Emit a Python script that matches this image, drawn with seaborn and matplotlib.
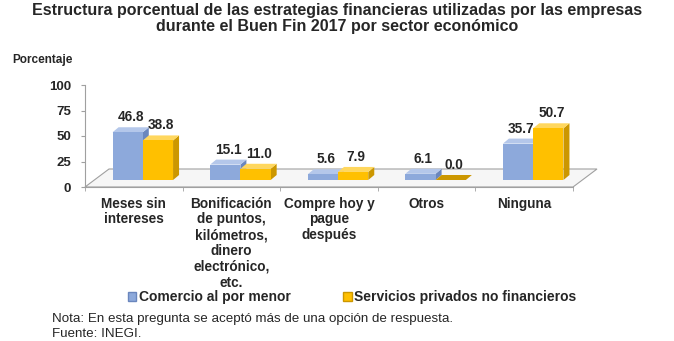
import numpy as np
import pandas as pd
import matplotlib
matplotlib.use("Agg")
import matplotlib.pyplot as plt
import seaborn as sns
from matplotlib.patches import Polygon, Patch
from matplotlib.transforms import Affine2D, IdentityTransform

categories = ["Meses sin\nintereses",
              "Bonificación\nde puntos,\nkilómetros,\ndinero\nelectrónico,\netc.",
              "Compre hoy y\npague\ndespués",
              "Otros",
              "Ninguna"]
series = ["Comercio al por menor", "Servicios privados no financieros"]
comercio = [46.8, 15.1, 5.6, 6.1, 35.7]
servicios = [38.8, 11.0, 7.9, 0.0, 50.7]
yticks = [0, 25, 50, 75, 100]

title = ("Estructura porcentual de las estrategias financieras utilizadas por las empresas\n"
         "durante el Buen Fin 2017 por sector económico")
nota = "Nota: En esta pregunta se aceptó más de una opción de respuesta."
fuente = "Fuente: INEGI."

front = ["#8DA9DB", "#FFC000"]
side = ["#6A86BD", "#CC9700"]
top = ["#B4C7EA", "#FFD75E"]

df = pd.DataFrame({
    "cat": categories * 2,
    "val": comercio + servicios,
    "serie": [series[0]] * 5 + [series[1]] * 5,
})

sns.set_style("white")
plt.rcParams["font.family"] = ["Liberation Sans", "DejaVu Sans"]

W, H = 674, 341
fig = plt.figure(figsize=(W / 100, H / 100), dpi=100)
ax = fig.add_axes([85 / W, (H - 187) / H, 488 / W, 102 / H])

sns.barplot(data=df, x="cat", y="val", hue="serie", palette=front,
            saturation=1, width=0.62, dodge=True, ax=ax, legend=False)

ax.set_xlim(-0.5, 4.5)
ax.set_ylim(0, 100)
ax.set_autoscale_on(False)
ax.set_xlabel("")
ax.set_ylabel("")

gray = "#A0A0A0"
for s in ["top", "right"]:
    ax.spines[s].set_visible(False)
ax.spines["left"].set_color(gray)
ax.spines["bottom"].set_color(gray)
ax.spines["left"].set_linewidth(0.8)
ax.spines["bottom"].set_linewidth(0.8)

ax.set_yticks(yticks)
ax.set_yticklabels([str(v) for v in yticks])
ax.tick_params(axis="y", length=3, color=gray, pad=7, labelsize=9.5, left=True)
for lbl in ax.get_yticklabels():
    lbl.set_fontweight("bold")

ax.set_xticks(range(len(categories)))
ax.set_xticklabels(categories)
ax.tick_params(axis="x", which="major", length=0, pad=7, labelsize=9.8)
for lbl in ax.get_xticklabels():
    lbl.set_fontweight("bold")
    lbl.set_linespacing(1.16)
    lbl.set_verticalalignment("top")
ax.set_xticks(np.arange(-0.5, len(categories), 1.0), minor=True)
ax.tick_params(axis="x", which="minor", length=3, color=gray, direction="out", bottom=True)

# floor (3D base)
fig.canvas.draw()
a = ax.transAxes
fl = a.transform((0, 0))
fr = a.transform((1, 0))
ddx, ddy = 24, 18
floor = Polygon([tuple(fl), tuple(fr), (fr[0] + ddx, fr[1] + ddy), (fl[0] + ddx, fl[1] + ddy)],
                closed=True, facecolor="#F6F6F6", edgecolor=gray, linewidth=0.8,
                transform=IdentityTransform(), clip_on=False, zorder=0.5)
ax.add_patch(floor)

# bars: shift to mid-depth and extrude
dx, dy = 9, 7
ex, ey = 6, 5
trans = ax.transData
for si, cont in enumerate(ax.containers):
    zb = 3 + si
    for patch in cont.patches:
        x0, y0 = patch.get_x(), patch.get_y()
        w, h = patch.get_width(), patch.get_height()
        X0, Y0 = trans.transform((x0, y0))
        X1, Y1 = trans.transform((x0 + w, y0 + h))
        X0 += dx; X1 += dx; Y0 += dy; Y1 += dy
        patch.set_transform(trans + Affine2D().translate(dx, dy))
        patch.set_zorder(zb)
        patch.set_clip_on(False)
        patch.set_edgecolor("none")
        sp = Polygon([(X1, Y0), (X1 + ex, Y0 + ey), (X1 + ex, Y1 + ey), (X1, Y1)],
                     closed=True, facecolor=side[si], edgecolor="none",
                     transform=IdentityTransform(), clip_on=False, zorder=zb - 0.1)
        tcol = top[si] if h > 0 else side[si]
        tp = Polygon([(X0, Y1), (X1, Y1), (X1 + ex, Y1 + ey), (X0 + ex, Y1 + ey)],
                     closed=True, facecolor=tcol, edgecolor="none",
                     transform=IdentityTransform(), clip_on=False, zorder=zb - 0.1)
        ax.add_patch(sp)
        ax.add_patch(tp)
    anns = ax.bar_label(cont, fmt="%.1f", fontsize=9.8, fontweight="bold", padding=0)
    for ann in anns:
        ann.xyann = ((dx + ex / 2) * 0.72, (dy + ey + 3) * 0.72)
        ann.set_zorder(6)
        ann.set_clip_on(False)

# texts
fig.text(0.5, 1 - 18.5 / H, title, ha="center", va="center", fontsize=11.5,
         fontweight="bold", linespacing=1.05)
fig.text(12 / W, 1 - 60 / H, "Porcentaje", ha="left", va="center", fontsize=8.5,
         fontweight="bold")

handles = [Patch(facecolor=front[0], edgecolor=side[0]),
           Patch(facecolor=front[1], edgecolor=side[1])]
fig.legend(handles=handles, labels=series, loc="center",
           bbox_to_anchor=(352 / W, 1 - 297 / H), ncol=2, frameon=False,
           prop={"size": 10, "weight": "bold"}, handlelength=0.6, handleheight=0.6,
           handletextpad=0.15, columnspacing=3.8, borderpad=0, borderaxespad=0)

fig.text(52 / W, 1 - 319 / H, nota, ha="left", va="center", fontsize=9.6)
fig.text(52 / W, 1 - 334 / H, fuente, ha="left", va="center", fontsize=9.6)

fig.savefig("out.png", dpi=100)
